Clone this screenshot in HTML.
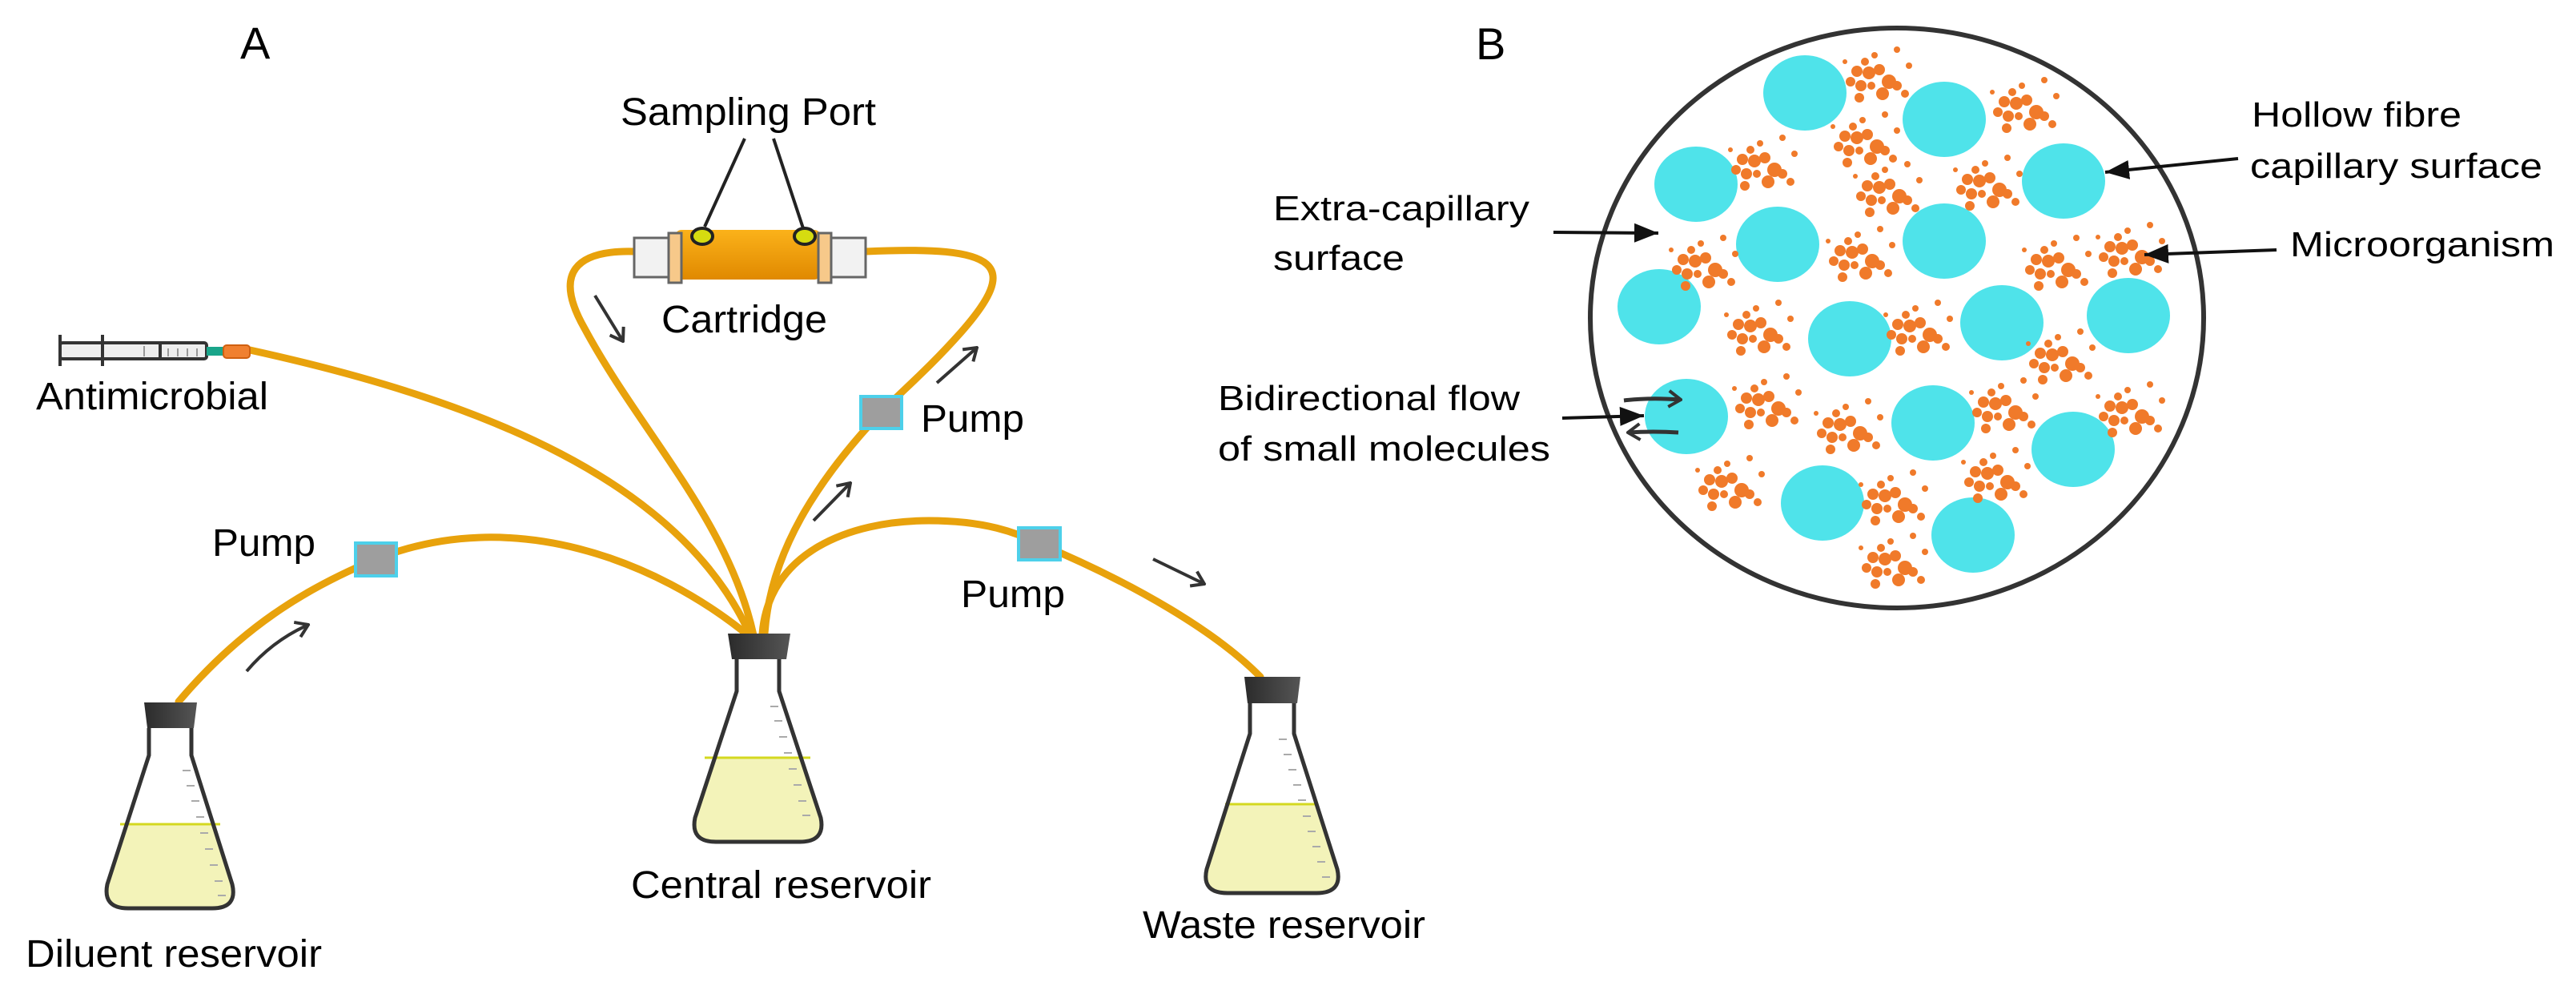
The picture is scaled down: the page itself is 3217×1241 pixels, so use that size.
<!DOCTYPE html>
<html><head><meta charset="utf-8"><style>html,body{margin:0;padding:0;background:#fff}svg{display:block}</style></head>
<body>
<svg xmlns="http://www.w3.org/2000/svg" width="3217" height="1241" viewBox="0 0 3217 1241">
<defs>
<marker id="ch" viewBox="-18 -12 20 24" refX="0" refY="0" markerWidth="20" markerHeight="24" markerUnits="userSpaceOnUse" orient="auto">
<path d="M-15,-10 L0,0 L-15,10" fill="none" stroke="#333" stroke-width="4"/></marker>
<marker id="tri" viewBox="-30 -13 31 26" refX="0" refY="0" markerWidth="31" markerHeight="26" markerUnits="userSpaceOnUse" orient="auto">
<path d="M-30,-12 L0,0 L-30,12 Z" fill="#111"/></marker>
<linearGradient id="cg" x1="0" y1="0" x2="0" y2="1"><stop offset="0" stop-color="#fbb21a"/><stop offset="1" stop-color="#e08900"/></linearGradient>
<linearGradient id="sg" x1="0" y1="0" x2="1" y2="0"><stop offset="0" stop-color="#2b2b2b"/><stop offset="1" stop-color="#555"/></linearGradient>
<g id="cl" fill="#f07a2a">
<circle cx="-15" cy="-15" r="5"/><circle cx="-3" cy="-23" r="4"/><circle cx="-25" cy="-3" r="7"/><circle cx="-10" cy="-1" r="8"/><circle cx="3" cy="-5" r="7"/>
<circle cx="-33" cy="10" r="6"/><circle cx="-20" cy="15" r="7"/><circle cx="-7" cy="15" r="5"/><circle cx="15" cy="10" r="9"/><circle cx="25" cy="15" r="6"/>
<circle cx="7" cy="25" r="8"/><circle cx="35" cy="25" r="5"/><circle cx="25" cy="-30" r="4"/><circle cx="40" cy="-10" r="4"/><circle cx="-40" cy="-15" r="3"/><circle cx="-22" cy="30" r="6"/>
</g>
<path id="fl" d=""/>
</defs>

<!-- Panel labels -->
<text x="300" y="73" font-family="Liberation Sans, sans-serif" font-size="56">A</text>
<text x="1843" y="74" font-family="Liberation Sans, sans-serif" font-size="56">B</text>

<!-- tubes -->
<g fill="none" stroke="#e8a20c" stroke-width="9" stroke-linecap="round">
<path d="M223,876 C300,785 380,735 470,698 C640,630 820,700 934,793"/>
<path d="M312,437 C600,500 850,600 937,793"/>
<path d="M792,314 C720,312 690,340 730,410 C800,540 910,650 941,793"/>
<path d="M1081,314 C1250,306 1275,330 1200,415 C1160,460 1130,485 1100,515 C1020,600 962,690 955,791"/>
<path d="M952,791 C960,690 1060,650 1160,650 C1230,650 1270,665 1298,679 C1420,730 1520,790 1574,845"/>
</g>

<!-- pumps -->
<g fill="#9e9e9e" stroke="#4dd0ea" stroke-width="4">
<rect x="444" y="678" width="51" height="41"/>
<rect x="1075" y="495" width="51" height="40"/>
<rect x="1272" y="659" width="52" height="40"/>
</g>

<!-- syringe -->
<g stroke="#333" stroke-width="4">
<rect x="75" y="428" width="183" height="20" fill="#eee" rx="3"/>
<line x1="75" y1="418" x2="75" y2="457"/>
<line x1="128" y1="418" x2="128" y2="457"/>
<line x1="200" y1="428" x2="200" y2="448"/>
</g>
<g stroke="#999" stroke-width="2"><line x1="180" y1="432" x2="180" y2="445"/><line x1="210" y1="435" x2="210" y2="445"/><line x1="222" y1="435" x2="222" y2="445"/><line x1="234" y1="435" x2="234" y2="445"/><line x1="246" y1="435" x2="246" y2="445"/></g>
<rect x="258" y="433" width="21" height="11" fill="#1aa58a"/>
<rect x="279" y="431" width="33" height="16" rx="4" fill="#f08030" stroke="#d06010" stroke-width="2"/>

<!-- cartridge -->
<rect x="843" y="287" width="182" height="62" rx="8" fill="url(#cg)"/>
<rect x="792" y="297" width="45" height="49" fill="#f2f2f2" stroke="#666" stroke-width="3"/>
<rect x="835" y="291" width="16" height="62" fill="#f7c98a" stroke="#666" stroke-width="3"/>
<rect x="1022" y="291" width="16" height="62" fill="#f7c98a" stroke="#666" stroke-width="3"/>
<rect x="1038" y="297" width="43" height="49" fill="#f2f2f2" stroke="#666" stroke-width="3"/>
<ellipse cx="877" cy="295" rx="13" ry="10" fill="#d6dc10" stroke="#222" stroke-width="4"/>
<ellipse cx="1005" cy="295" rx="13" ry="10" fill="#d6dc10" stroke="#222" stroke-width="4"/>
<g stroke="#222" stroke-width="4"><line x1="930" y1="173" x2="880" y2="283"/><line x1="966" y1="173" x2="1003" y2="285"/></g>

<!-- flasks -->
<g id="f1">
<clipPath id="c1"><path d="M186,909 V943 L134,1104 Q128,1134 160,1134 L265,1134 Q297,1134 290,1104 L239,943 V909 Z"/></clipPath>
<rect x="120" y="1029" width="190" height="120" fill="#f3f3b9" clip-path="url(#c1)"/>
<line x1="150" y1="1029" x2="275" y2="1029" stroke="#d4d820" stroke-width="3"/>
<path d="M186,909 V943 L134,1104 Q128,1134 160,1134 L265,1134 Q297,1134 290,1104 L239,943 V909" fill="none" stroke="#333" stroke-width="5"/>
<path d="M180,877 H246 L242,909 H184 Z" fill="url(#sg)"/>
<g stroke="#aaa" stroke-width="2"><line x1="228" y1="962" x2="238" y2="962"/><line x1="233" y1="981" x2="243" y2="981"/><line x1="239" y1="1000" x2="249" y2="1000"/><line x1="245" y1="1020" x2="255" y2="1020"/><line x1="250" y1="1040" x2="260" y2="1040"/><line x1="256" y1="1060" x2="266" y2="1060"/><line x1="262" y1="1080" x2="272" y2="1080"/><line x1="268" y1="1100" x2="278" y2="1100"/><line x1="272" y1="1118" x2="282" y2="1118"/></g>
</g>
<g>
<clipPath id="c2"><path d="M920,823 V863 L868,1021 Q862,1051 894,1051 L999,1051 Q1031,1051 1025,1021 L973,863 V823 Z"/></clipPath>
<rect x="850" y="946" width="200" height="120" fill="#f3f3b9" clip-path="url(#c2)"/>
<line x1="880" y1="946" x2="1012" y2="946" stroke="#d4d820" stroke-width="3"/>
<path d="M920,823 V863 L868,1021 Q862,1051 894,1051 L999,1051 Q1031,1051 1025,1021 L973,863 V823" fill="none" stroke="#333" stroke-width="5"/>
<path d="M909,791 H987 L982,823 H914 Z" fill="url(#sg)"/>
<g stroke="#aaa" stroke-width="2"><line x1="962" y1="882" x2="972" y2="882"/><line x1="967" y1="900" x2="977" y2="900"/><line x1="973" y1="920" x2="983" y2="920"/><line x1="979" y1="940" x2="989" y2="940"/><line x1="985" y1="960" x2="995" y2="960"/><line x1="991" y1="980" x2="1001" y2="980"/><line x1="997" y1="1000" x2="1007" y2="1000"/><line x1="1002" y1="1018" x2="1012" y2="1018"/></g>
</g>
<g>
<clipPath id="c3"><path d="M1561,878 V916 L1507,1085 Q1500,1115 1533,1115 L1644,1115 Q1677,1115 1670,1085 L1616,916 V878 Z"/></clipPath>
<rect x="1490" y="1004" width="200" height="120" fill="#f3f3b9" clip-path="url(#c3)"/>
<line x1="1530" y1="1004" x2="1645" y2="1004" stroke="#d4d820" stroke-width="3"/>
<path d="M1561,878 V916 L1507,1085 Q1500,1115 1533,1115 L1644,1115 Q1677,1115 1670,1085 L1616,916 V878" fill="none" stroke="#333" stroke-width="5"/>
<path d="M1554,845 H1624 L1620,878 H1558 Z" fill="url(#sg)"/>
<g stroke="#aaa" stroke-width="2"><line x1="1597" y1="923" x2="1607" y2="923"/><line x1="1603" y1="942" x2="1613" y2="942"/><line x1="1609" y1="961" x2="1619" y2="961"/><line x1="1615" y1="980" x2="1625" y2="980"/><line x1="1621" y1="999" x2="1631" y2="999"/><line x1="1627" y1="1019" x2="1637" y2="1019"/><line x1="1633" y1="1038" x2="1643" y2="1038"/><line x1="1639" y1="1057" x2="1649" y2="1057"/><line x1="1645" y1="1076" x2="1655" y2="1076"/><line x1="1651" y1="1095" x2="1661" y2="1095"/></g>
</g>

<!-- flow arrows -->
<g fill="none" stroke="#333" stroke-width="4" marker-end="url(#ch)">
<path d="M308,838 Q340,800 385,780"/>
<path d="M743,369 L778,426"/>
<path d="M1170,478 L1220,434"/>
<path d="M1016,650 L1062,603"/>
<path d="M1440,698 L1504,729"/>
</g>

<!-- Panel A text -->
<g font-family="Liberation Sans, sans-serif" font-size="48" fill="#000" lengthAdjust="spacingAndGlyphs">
<text x="775" y="156" textLength="319" lengthAdjust="spacingAndGlyphs">Sampling Port</text>
<text x="826" y="415" textLength="207" lengthAdjust="spacingAndGlyphs">Cartridge</text>
<text x="45" y="511" textLength="290" lengthAdjust="spacingAndGlyphs">Antimicrobial</text>
<text x="265" y="694" textLength="129" lengthAdjust="spacingAndGlyphs">Pump</text>
<text x="1150" y="539" textLength="129" lengthAdjust="spacingAndGlyphs">Pump</text>
<text x="1200" y="758" textLength="130" lengthAdjust="spacingAndGlyphs">Pump</text>
<text x="788" y="1121" textLength="375" lengthAdjust="spacingAndGlyphs">Central reservoir</text>
<text x="32" y="1207" textLength="370" lengthAdjust="spacingAndGlyphs">Diluent reservoir</text>
<text x="1427" y="1171" textLength="353" lengthAdjust="spacingAndGlyphs">Waste reservoir</text>
</g>

<!-- Panel B -->
<ellipse cx="2369" cy="397" rx="383" ry="362" fill="#fff" stroke="#333" stroke-width="6"/>
<g fill="#4fe3ea">
<ellipse cx="2254" cy="116" rx="52" ry="47"/><ellipse cx="2428" cy="149" rx="52" ry="47"/><ellipse cx="2118" cy="230" rx="52" ry="47"/>
<ellipse cx="2577" cy="226" rx="52" ry="47"/><ellipse cx="2220" cy="305" rx="52" ry="47"/><ellipse cx="2428" cy="301" rx="52" ry="47"/>
<ellipse cx="2072" cy="383" rx="52" ry="47"/><ellipse cx="2310" cy="423" rx="52" ry="47"/><ellipse cx="2500" cy="403" rx="52" ry="47"/>
<ellipse cx="2658" cy="394" rx="52" ry="47"/><ellipse cx="2106" cy="520" rx="52" ry="47"/><ellipse cx="2414" cy="528" rx="52" ry="47"/>
<ellipse cx="2589" cy="561" rx="52" ry="47"/><ellipse cx="2276" cy="628" rx="52" ry="47"/><ellipse cx="2464" cy="668" rx="52" ry="47"/>
</g>
<use href="#cl" x="2344" y="92"/><use href="#cl" x="2528" y="130"/><use href="#cl" x="2201" y="202"/><use href="#cl" x="2329" y="173"/>
<use href="#cl" x="2357" y="235"/><use href="#cl" x="2482" y="227"/><use href="#cl" x="2127" y="327"/><use href="#cl" x="2323" y="316"/>
<use href="#cl" x="2568" y="327"/><use href="#cl" x="2660" y="311"/><use href="#cl" x="2196" y="408"/><use href="#cl" x="2395" y="408"/>
<use href="#cl" x="2573" y="444"/><use href="#cl" x="2206" y="500"/><use href="#cl" x="2308" y="531"/><use href="#cl" x="2502" y="505"/>
<use href="#cl" x="2660" y="510"/><use href="#cl" x="2160" y="602"/><use href="#cl" x="2364" y="620"/><use href="#cl" x="2492" y="592"/>
<use href="#cl" x="2364" y="699"/>

<g stroke="#111" stroke-width="4" fill="none" marker-end="url(#tri)">
<line x1="1940" y1="290" x2="2071" y2="291"/>
<line x1="1951" y1="522" x2="2053" y2="519"/>
<line x1="2795" y1="198" x2="2629" y2="215"/>
<line x1="2843" y1="312" x2="2678" y2="318"/>
</g>
<g stroke="#333" stroke-width="5" fill="none" marker-end="url(#ch)">
<path d="M2028,500 Q2060,496 2099,499"/>
<path d="M2096,540 Q2065,538 2033,540"/>
</g>

<g font-family="Liberation Sans, sans-serif" font-size="44" fill="#000">
<text x="1590" y="275" textLength="320" lengthAdjust="spacingAndGlyphs">Extra-capillary</text>
<text x="1590" y="337" textLength="164" lengthAdjust="spacingAndGlyphs">surface</text>
<text x="1521" y="512" textLength="377" lengthAdjust="spacingAndGlyphs">Bidirectional flow</text>
<text x="1521" y="575" textLength="415" lengthAdjust="spacingAndGlyphs">of small molecules</text>
<text x="2812" y="158" textLength="262" lengthAdjust="spacingAndGlyphs">Hollow fibre</text>
<text x="2810" y="222" textLength="365" lengthAdjust="spacingAndGlyphs">capillary surface</text>
<text x="2860" y="320" textLength="330" lengthAdjust="spacingAndGlyphs">Microorganism</text>
</g>
</svg>
</body></html>
